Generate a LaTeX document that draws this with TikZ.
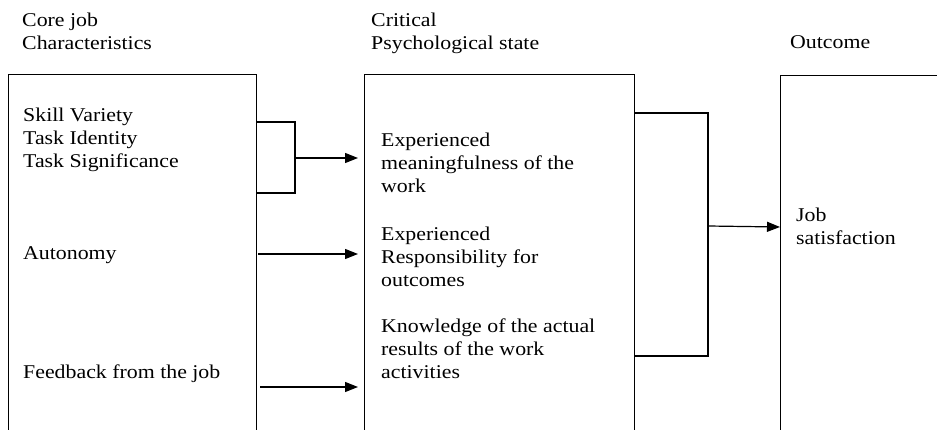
\documentclass[tikz,border=0pt]{standalone}
\usepackage{fontspec}
\setmainfont{Liberation Serif}[FakeStretch=1.12]
\usetikzlibrary{arrows.meta}
\begin{document}
\begin{tikzpicture}[x=1pt,y=-1pt,
  every node/.style={font=\fontsize{19.5}{23}\selectfont},
  lbl/.style={anchor=base west,inner sep=0pt,align=left},
  panel/.style={draw,line width=1.2pt,rectangle,anchor=north west,inner sep=0pt,minimum height=380pt},
  conn/.style={line width=1.2pt},
  arr/.style={line width=1.2pt,-{Triangle[length=13pt,width=10pt]}}]
\useasboundingbox (0,0) rectangle (937,430);
\clip (0,0) rectangle (937,430);
\fill[white] (0,0) rectangle (937,430);
% panels
\node[panel,minimum width=248pt] (core) at (8,74) {};
\node[panel,minimum width=270pt] (crit) at (364,74) {};
\node[panel,minimum width=200pt] (out) at (780,75) {};
% headings (anchor = baseline of last line)
\node[lbl] (h1) at (22,49.5) {Core job\\Characteristics};
\node[lbl] (h2) at (371,49.5) {Critical\\Psychological state};
\node[lbl] (h3) at (790,49) {Outcome};
% left texts
\node[lbl] (skills) at (23,168) {Skill Variety\\Task Identity\\Task Significance};
\node[lbl] (auto) at (23,260) {Autonomy};
\node[lbl] (feed) at (23,378) {Feedback from the job};
% middle texts
\node[lbl] (mean) at (381,193) {Experienced\\meaningfulness of the\\work};
\node[lbl] (resp) at (381,287) {Experienced\\Responsibility for\\outcomes};
\node[lbl] (know) at (381,378) {Knowledge of the actual\\results of the work\\activities};
% right text
\node[lbl] (sat) at (796,245) {Job\\satisfaction};
% coordinates for connectors
\coordinate (b1t) at (core.east |- 0,122);
\coordinate (b1b) at (core.east |- 0,193);
\coordinate (b1s) at (295,158);
\coordinate (b1e) at (crit.west |- 0,158);
\coordinate (a2s) at (258,254);
\coordinate (a2e) at (crit.west |- 0,254);
\coordinate (a3s) at (260,387);
\coordinate (a3e) at (crit.west |- 0,387);
\coordinate (b2t) at (crit.east |- 0,113);
\coordinate (b2b) at (crit.east |- 0,356);
\coordinate (b2s) at (708,226);
\coordinate (b2e) at (out.west |- 0,227);
% connectors
\draw[conn] (b1t) -| (b1s) |- (b1b);
\draw[arr,shorten >=6pt] (b1s) -- (b1e);
\draw[arr,shorten >=6pt] (a2s) -- (a2e);
\draw[arr,shorten >=6pt] (a3s) -- (a3e);
\draw[conn] (b2t) -| (b2s) |- (b2b);
\draw[arr] (b2s) -- (b2e);
\end{tikzpicture}
\end{document}
